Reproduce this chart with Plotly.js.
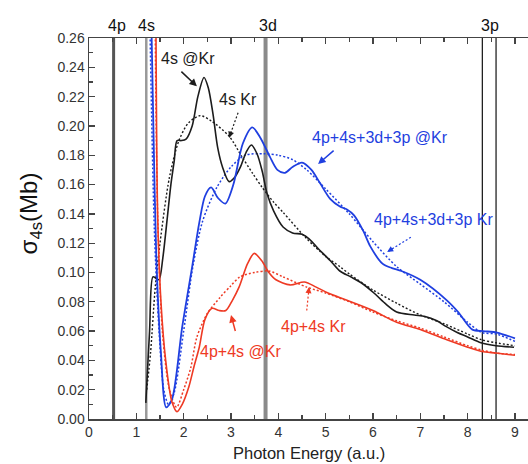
<!DOCTYPE html>
<html>
<head>
<meta charset="utf-8">
<script src="https://cdn.plot.ly/plotly-3.0.1.min.js"></script>
<style>html,body{margin:0;padding:0;background:#fff;}#chart{width:528px;height:464px;}</style>
</head>
<body>
<div id="chart"></div>
<script>
// ---- data ----
const blackSolidX = [1.20,1.28,1.35,1.42,1.48,1.56,1.65,1.73,1.80,1.86,1.95,2.05,2.18,2.30,2.43,2.52,2.62,2.72,2.82,2.96,3.08,3.20,3.32,3.43,3.55,3.66,3.76,3.90,4.10,4.30,4.50,4.65,4.85,5.10,5.30,5.53,5.75,6.02,6.25,6.50,6.87,7.10,7.35,7.55,7.78,8.00,8.28,8.60,8.98];
const blackSolidY = [0.011,0.060,0.097,0.096,0.095,0.110,0.136,0.160,0.176,0.190,0.190,0.191,0.200,0.220,0.233,0.226,0.208,0.185,0.172,0.162,0.165,0.172,0.182,0.187,0.181,0.169,0.154,0.142,0.131,0.127,0.126,0.123,0.116,0.108,0.101,0.097,0.093,0.086,0.079,0.073,0.071,0.070,0.067,0.063,0.059,0.056,0.052,0.050,0.049];

const blackDotX = [1.22,1.30,1.40,1.50,1.70,1.90,2.10,2.35,2.60,2.96,3.23,3.45,3.66,3.90,4.10,4.60,5.00,5.30,5.50,6.00,6.50,7.00,7.50,8.00,8.30,8.60,9.00];
const blackDotY = [0.020,0.045,0.090,0.120,0.165,0.190,0.202,0.207,0.203,0.193,0.179,0.168,0.158,0.148,0.141,0.123,0.111,0.104,0.099,0.088,0.079,0.071,0.065,0.058,0.054,0.052,0.050];

const blueSolidX = [1.30,1.36,1.42,1.52,1.63,1.75,1.97,2.18,2.33,2.45,2.58,2.72,2.88,3.05,3.25,3.45,3.62,3.82,3.98,4.14,4.30,4.50,4.70,4.88,5.10,5.30,5.45,5.60,5.80,5.94,6.20,6.40,6.60,7.00,7.56,7.80,8.10,8.33,8.62,9.00];
const blueSolidY = [0.300,0.200,0.113,0.045,0.008,0.013,0.063,0.104,0.134,0.152,0.158,0.151,0.147,0.160,0.188,0.199,0.192,0.179,0.170,0.168,0.172,0.175,0.170,0.161,0.150,0.145,0.143,0.139,0.128,0.118,0.106,0.103,0.101,0.095,0.081,0.073,0.061,0.060,0.059,0.055];

const blueDotX = [1.27,1.38,1.48,1.58,1.68,1.80,2.00,2.20,2.40,2.70,3.00,3.30,3.70,4.00,4.30,4.60,5.00,5.50,6.00,6.50,7.00,7.50,8.00,8.30,8.60,9.00];
const blueDotY = [0.300,0.130,0.060,0.020,0.010,0.018,0.060,0.105,0.135,0.158,0.172,0.180,0.181,0.180,0.177,0.170,0.157,0.140,0.121,0.104,0.092,0.080,0.066,0.059,0.058,0.053];

const redSolidX = [1.41,1.45,1.52,1.62,1.75,1.86,1.97,2.11,2.22,2.33,2.45,2.60,2.75,2.89,3.03,3.17,3.35,3.49,3.65,3.80,3.95,4.25,4.55,4.80,5.05,5.45,6.00,6.50,7.00,7.56,8.00,8.30,8.60,9.00];
const redSolidY = [0.300,0.140,0.080,0.040,0.012,0.005,0.010,0.022,0.036,0.049,0.068,0.0755,0.074,0.074,0.081,0.090,0.106,0.113,0.108,0.100,0.095,0.0915,0.0935,0.090,0.086,0.081,0.074,0.066,0.061,0.054,0.049,0.046,0.045,0.0435];

const redDotX = [1.39,1.45,1.55,1.70,1.85,2.00,2.15,2.28,2.50,2.77,3.00,3.19,3.50,3.80,4.10,4.60,5.00,5.50,6.00,6.50,7.00,7.50,8.00,8.30,8.60,9.00];
const redDotY = [0.300,0.140,0.060,0.020,0.008,0.020,0.035,0.056,0.072,0.083,0.091,0.097,0.100,0.101,0.097,0.090,0.086,0.080,0.073,0.067,0.062,0.056,0.050,0.047,0.045,0.044];

const thresholdNames = ["4p","4s","3d","3p"];
const thresholdLabelX = [0.60,1.22,3.78,8.47];
const thresholdLineX = [0.52,1.21,3.73,8.31,8.60];

const xTickVals = [0,1,2,3,4,5,6,7,8,9];
const yTickVals = [0,0.02,0.04,0.06,0.08,0.10,0.12,0.14,0.16,0.18,0.20,0.22,0.24,0.26];

// ---- styles ----
const BLACK = '#1c1c1c', BLUE = '#1f3fe0', RED = '#ee3a24';
const FONT = 'Liberation Sans, Arial, sans-serif';

function tr(x, y, color, dotted, w) {
  return {x: x, y: y, type: 'scatter', mode: 'lines', hoverinfo: 'skip',
    line: {color: color, width: w, shape: 'spline', smoothing: 0.8, dash: dotted ? '2px,2px' : 'solid'}};
}

const data = [
  tr(blackDotX, blackDotY, BLACK, true, 1.4),
  tr(blueDotX, blueDotY, BLUE, true, 1.5),
  tr(redDotX, redDotY, RED, true, 1.5),
  tr(blackSolidX, blackSolidY, BLACK, false, 1.6),
  tr(blueSolidX, blueSolidY, BLUE, false, 1.8),
  tr(redSolidX, redSolidY, RED, false, 1.6)
];

const lineStyles = [
  {color: '#555', width: 3},
  {color: '#999', width: 2.5},
  {color: '#8a8a8a', width: 4},
  {color: '#111', width: 1.2},
  {color: '#111', width: 1.2}
];
const shapes = thresholdLineX.map((xv, i) => ({
  type: 'line', xref: 'x', yref: 'paper', x0: xv, x1: xv, y0: 0, y1: 1,
  line: lineStyles[i], layer: 'below'
}));

const annotations = [];
thresholdNames.forEach((t, i) => annotations.push({
  text: t, x: thresholdLabelX[i], xref: 'x', y: 1, yref: 'paper', yanchor: 'bottom', yshift: 2,
  showarrow: false, font: {family: FONT, size: 16, color: '#111'}
}));

function label(text, x, y, color) {
  annotations.push({text: text, x: x, y: y, xref: 'x', yref: 'y', showarrow: false,
    font: {family: FONT, size: 16, color: color}});
}
function arrow(x0, y0, x1, y1, color, dotted) {
  if (dotted) {
    shapes.push({type: 'line', xref: 'x', yref: 'y', x0: x0, y0: y0, x1: x1, y1: y1,
      line: {color: color, width: 1.2, dash: '2px,2px'}});
    annotations.push({text: '', x: x1, y: y1, xref: 'x', yref: 'y',
      ax: x1 + (x0 - x1) * 0.3, ay: y1 + (y0 - y1) * 0.3, axref: 'x', ayref: 'y',
      showarrow: true, arrowhead: 2, arrowsize: 1, arrowwidth: 1.2, arrowcolor: color});
  } else {
    annotations.push({text: '', x: x1, y: y1, xref: 'x', yref: 'y', ax: x0, ay: y0, axref: 'x', ayref: 'y',
      showarrow: true, arrowhead: 2, arrowsize: 1, arrowwidth: 1.5, arrowcolor: color});
  }
}
label('4s @Kr', 2.09, 0.246, BLACK);
arrow(1.92, 0.238, 2.28, 0.227, BLACK, false);
label('4s Kr', 3.15, 0.218, BLACK);
arrow(3.15, 0.209, 2.96, 0.192, BLACK, true);
label('4p+4s+3d+3p @Kr', 6.15, 0.192, BLUE);
arrow(5.20, 0.184, 4.84, 0.174, BLUE, false);
label('4p+4s+3d+3p Kr', 7.27, 0.136, BLUE);
arrow(6.80, 0.124, 6.30, 0.114, BLUE, true);
label('4p+4s @Kr', 3.21, 0.046, RED);
arrow(3.10, 0.059, 3.00, 0.071, RED, false);
label('4p+4s Kr', 4.75, 0.063, RED);
arrow(4.60, 0.074, 4.65, 0.090, RED, true);

// axis titles as annotations for exact placement
annotations.push({text: 'σ<sub>4s</sub>(Mb)', xref: 'paper', yref: 'paper', x: -0.134, y: 0.54,
  xanchor: 'center', yanchor: 'middle',
  textangle: -90, showarrow: false, font: {family: FONT, size: 24, color: '#111'}});
annotations.push({text: 'Photon Energy (a.u.)', xref: 'paper', yref: 'paper', x: 0.5, y: -0.089,
  xanchor: 'center', yanchor: 'middle', showarrow: false, font: {family: FONT, size: 16.5, color: '#222'}});

const layout = {
  width: 528, height: 464,
  margin: {l: 89, r: 0, t: 38, b: 45},
  paper_bgcolor: '#fff', plot_bgcolor: '#fff',
  showlegend: false,
  font: {family: FONT, size: 14, color: '#333'},
  xaxis: {
    range: [0, 9.275], tickvals: xTickVals, ticktext: xTickVals.map(String),
    ticks: 'inside', ticklen: 6, tickwidth: 1.3, tickcolor: '#444',
    minor: {dtick: 0.5, tick0: 0, ticks: 'inside', ticklen: 4, tickwidth: 1.1, tickcolor: '#444'},
    showline: true, linecolor: '#444', linewidth: 1.5, mirror: 'ticks',
    showgrid: false, zeroline: false, tickfont: {family: FONT, size: 14, color: '#333'}
  },
  yaxis: {
    range: [0, 0.26], tickvals: yTickVals, ticktext: yTickVals.map(v => v.toFixed(2)),
    ticks: 'inside', ticklen: 6, tickwidth: 1.3, tickcolor: '#444',
    minor: {dtick: 0.01, tick0: 0, ticks: 'inside', ticklen: 4, tickwidth: 1.1, tickcolor: '#444'},
    showline: true, linecolor: '#444', linewidth: 1.5,
    showgrid: false, zeroline: false, tickfont: {family: FONT, size: 14, color: '#333'}
  },
  shapes: shapes,
  annotations: annotations
};

Plotly.newPlot('chart', data, layout, {staticPlot: true, displayModeBar: false});
</script>
</body>
</html>
